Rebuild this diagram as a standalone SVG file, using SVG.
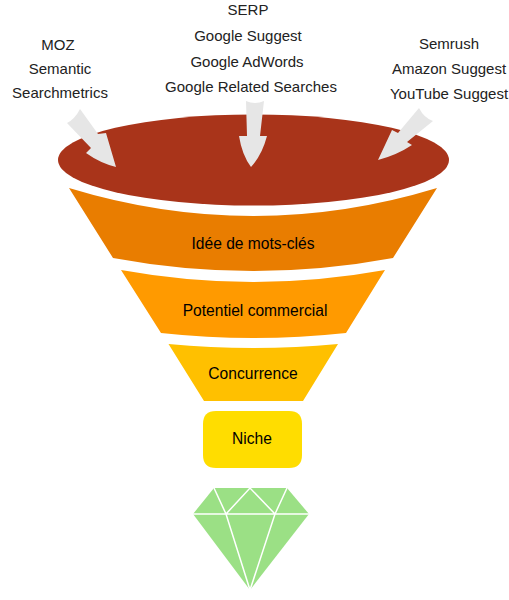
<svg xmlns="http://www.w3.org/2000/svg" width="509" height="600" viewBox="0 0 509 600">
<style>
text{font-family:"Liberation Sans",Arial,sans-serif;font-size:15px;text-anchor:middle;fill:#222}
.b{fill:#000;font-size:15.600px}
.arrow{fill:#e6e6e6}
.facet{fill:none;stroke:#fff;stroke-width:1.500}
</style>
<rect width="509" height="600" fill="#fff"/>
<g id="funnel-top"><ellipse cx="253.500" cy="160" rx="195.500" ry="45.500" fill="#a9341a"/></g>
<g id="idee"><path d="M69 188Q253 244 437 188L393 258Q253 284 113 258Z" fill="#e97d00"/><text class="b" x="253" y="249">Idée de mots-clés</text></g>
<g id="potentiel"><path d="M121 270Q253 294 385 270L346 333Q253 343 161 333Z" fill="#ff9a00"/><text class="b" x="255" y="316">Potentiel commercial</text></g>
<g id="concurrence"><path d="M168.500 344Q253 352 338 344L303 401H204Z" fill="#ffc000"/><text class="b" x="253" y="379">Concurrence</text></g>
<g id="niche"><path d="M216 411H289Q302 411 302 424V455Q302 468 289 468H216Q203 468 203 455V424Q203 411 216 411Z" fill="#ffdd00"/><text class="b" x="252" y="444">Niche</text></g>
<g id="diamond"><path d="M214 488H287L309 514L250 590L193 514Z" fill="#9be085"/><path class="facet" d="M193 514H309M214 488L226 514L250 590L275 514L287 488M226 514L250 488L275 514"/></g>
<g id="connectors">
<path class="arrow" d="M80 109L98 134L106 133L116 167Q100 163 86 153L91 148L67 123Q75 119 80 109Z"/>
<path class="arrow" d="M246 101Q255 105 264 101L260 136H267Q262 155 251 167Q242 155 239 136H247Z"/>
<path class="arrow" d="M419 108L398 133L392 130L378 160Q397 155 412 145L407 142L433 121Q424 118 419 108Z"/>
</g>
<g id="source-left"><text x="58" y="50">MOZ</text><text x="60" y="74">Semantic</text><text x="60" y="98">Searchmetrics</text></g>
<g id="source-center"><text x="248" y="15">SERP</text><text x="248" y="41">Google Suggest</text><text x="247" y="67">Google AdWords</text><text x="251" y="92">Google Related Searches</text></g>
<g id="source-right"><text x="449" y="49">Semrush</text><text x="449" y="74">Amazon Suggest</text><text x="449" y="99">YouTube Suggest</text></g>
</svg>
